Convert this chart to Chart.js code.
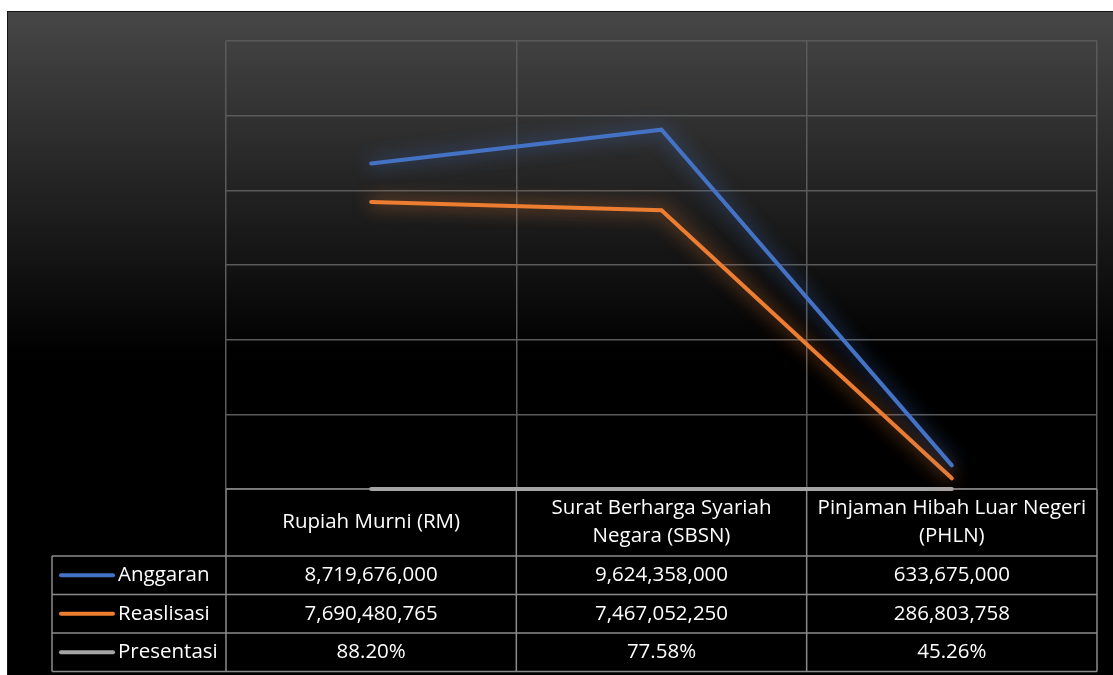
<!DOCTYPE html>
<html>
<head>
<meta charset="utf-8">
<script src="https://cdn.jsdelivr.net/npm/chart.js@4.4.0/dist/chart.umd.min.js"></script>
<style>
  html, body { margin: 0; padding: 0; background: #fff; }
  #wrap { position: absolute; left: 7px; top: 11px; }
</style>
</head>
<body>
<div id="wrap"><canvas id="line-chart" width="1106" height="664"></canvas></div>
<script>
// data
const categories = [
    ['Rupiah Murni (RM)'],
    ['Surat Berharga Syariah', 'Negara (SBSN)'],
    ['Pinjaman Hibah Luar Negeri', '(PHLN)']
];
const seriesNames = ['Anggaran', 'Reaslisasi', 'Presentasi'];
const anggaran = [8719676000, 9624358000, 633675000];
const realisasi = [7690480765, 7467052250, 286803758];
const presentasi = [88.20, 77.58, 45.26];
const yTicks = { min: 0, max: 12000000000, step: 2000000000 };

const colors = ['#4472C4', '#ED7D31', '#A5A5A5'];
const glow = ['rgba(68,114,196,0.9)', 'rgba(237,125,49,0.9)', 'rgba(0,0,0,0)'];
const FONT = '"Open Sans", "DejaVu Sans", sans-serif';

// rows for the data table under the plot
const tableRows = [
    anggaran.map(v => v.toLocaleString('en-US')),
    realisasi.map(v => v.toLocaleString('en-US')),
    presentasi.map(v => v.toFixed(2) + '%')
];

// dark gradient background
const bgPlugin = {
    id: 'bg',
    beforeDraw(chart) {
        const ctx = chart.ctx;
        const g = ctx.createLinearGradient(0, 0, 0, 345);
        g.addColorStop(0, '#474747');
        g.addColorStop(1, '#000000');
        ctx.save();
        ctx.fillStyle = g;
        ctx.fillRect(0, 0, chart.width, chart.height);
        ctx.fillStyle = '#151515';
        ctx.fillRect(0, 0, chart.width, 1);
        ctx.fillRect(0, 0, 1, chart.height);
        ctx.restore();
    }
};

// soft glow under the lines
const glowPlugin = {
    id: 'glow',
    beforeDatasetDraw(chart, args) {
        const ctx = chart.ctx;
        ctx.save();
        ctx.shadowColor = glow[args.index];
        ctx.shadowBlur = 18;
    },
    afterDatasetDraw(chart) {
        chart.ctx.restore();
    }
};

// data table drawn along the x scale (before the lines, so the grey one sits on top)
const tablePlugin = {
    id: 'dataTable',
    beforeDatasetsDraw(chart) {
        const ctx = chart.ctx;
        const xs = chart.scales.x;
        const area = chart.chartArea;
        const half = (xs.getPixelForValue(1) - xs.getPixelForValue(0)) / 2;
        const headH = 67, rowH = 38.5;
        const legLeft = 45;
        const top = area.bottom;
        const rowsTop = top + headH;
        const bottom = rowsTop + rowH * 3;

        ctx.save();
        ctx.strokeStyle = '#8a8a8a';
        ctx.lineWidth = 1.5;
        ctx.beginPath();
        ctx.moveTo(area.left, top); ctx.lineTo(area.right, top);
        for (let i = 0; i <= categories.length; i++) {
            const x = i === categories.length ? area.right : xs.getPixelForValue(i) - half;
            ctx.moveTo(x, top); ctx.lineTo(x, bottom);
        }
        for (let r = 0; r <= 3; r++) {
            const y = rowsTop + r * rowH;
            ctx.moveTo(legLeft, y); ctx.lineTo(area.right, y);
        }
        ctx.moveTo(legLeft, rowsTop); ctx.lineTo(legLeft, bottom);
        ctx.stroke();

        ctx.fillStyle = '#ffffff';
        ctx.font = '20.5px ' + FONT;
        ctx.textAlign = 'center';
        ctx.textBaseline = 'middle';
        categories.forEach((lines, i) => {
            const x = xs.getPixelForValue(i);
            const lh = 28;
            const y0 = top + headH / 2 - (lines.length - 1) * lh / 2;
            lines.forEach((t, k) => ctx.fillText(t, x, y0 + k * lh));
        });
        tableRows.forEach((row, r) => {
            const y = rowsTop + r * rowH + rowH / 2;
            row.forEach((t, i) => ctx.fillText(t, xs.getPixelForValue(i), y));
            // legend key
            ctx.strokeStyle = colors[r];
            ctx.lineWidth = 4;
            ctx.lineCap = 'round';
            ctx.beginPath();
            ctx.moveTo(54, y); ctx.lineTo(106, y);
            ctx.stroke();
            ctx.textAlign = 'left';
            ctx.fillText(seriesNames[r], 111, y);
            ctx.textAlign = 'center';
        });
        ctx.restore();
    }
};

const seriesData = [anggaran, realisasi, presentasi];

new Chart(document.getElementById('line-chart'), {
    type: 'line',
    data: {
        labels: categories.map(c => c.join(' ')),
        datasets: seriesData.map((d, i) => ({
            label: seriesNames[i],
            data: d,
            borderColor: colors[i],
            borderWidth: 4,
            borderCapStyle: 'round',
            borderJoinStyle: 'miter',
            pointRadius: 0,
            tension: 0,
            clip: false
        }))
    },
    options: {
        responsive: false,
        animation: false,
        layout: { padding: { left: 219, right: 16, top: 30, bottom: 186 } },
        plugins: {
            legend: { display: false },
            tooltip: { enabled: false }
        },
        scales: {
            x: {
                offset: true,
                grid: { offset: true, color: '#5a5a5a', lineWidth: 1.5, drawTicks: false },
                border: { display: false },
                ticks: { display: false }
            },
            y: {
                min: yTicks.min,
                max: yTicks.max,
                ticks: { display: false, stepSize: yTicks.step },
                grid: { color: '#5a5a5a', lineWidth: 1.5, drawTicks: false },
                border: { display: false }
            }
        }
    },
    plugins: [bgPlugin, glowPlugin, tablePlugin]
});
</script>
</body>
</html>
